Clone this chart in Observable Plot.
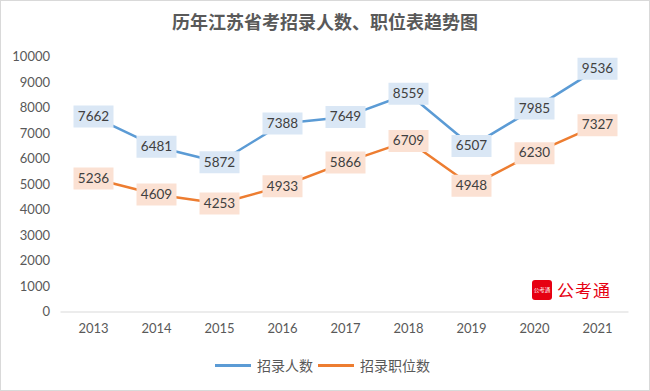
<!DOCTYPE html>
<html><head><meta charset="utf-8">
<script src="https://cdn.jsdelivr.net/npm/d3@7"></script>
<script src="https://cdn.jsdelivr.net/npm/@observablehq/plot@0.6"></script>
<style>
body{margin:0;background:#fff;}
#wrap{position:relative;width:650px;height:391px;overflow:hidden;background:#fff;}
#frame{position:absolute;left:0;top:0;width:650px;height:391px;box-sizing:border-box;border:1px solid #d9d9d9;pointer-events:none;}
#title{position:absolute;left:0;top:9px;width:650px;text-align:center;font:bold 18px "Noto Sans CJK SC";color:#595959;line-height:24px;}
#legend{position:absolute;left:0;top:354px;width:650px;font:14px "Noto Sans CJK SC";color:#595959;line-height:22px;}
.li{position:absolute;top:0;display:flex;align-items:center;}
.sw{display:inline-block;width:36px;height:3px;margin-right:6px;}
#logo{position:absolute;left:532px;top:280px;display:flex;align-items:center;}
#logo .box{width:20px;height:20px;background:#e60012;border-radius:3px;color:#fff;font:5.5px "Noto Sans CJK SC";display:flex;align-items:center;justify-content:center;}
#logo .txt{margin-left:5px;font:17px "Noto Sans CJK SC";color:#e60012;line-height:20px;letter-spacing:1px;}
svg{position:absolute;left:0;top:0;}
</style></head>
<body>
<div id="wrap">
<div id="chart"></div>
<div id="title">历年江苏省考招录人数、职位表趋势图</div>
<div id="logo"><div class="box">公考通</div><div class="txt">公考通</div></div>
<div id="legend">
  <div class="li" style="left:215px"><span class="sw" style="background:#5b9bd5"></span>招录人数</div>
  <div class="li" style="left:318px"><span class="sw" style="background:#ed7d31"></span>招录职位数</div>
</div>
<div id="frame"></div>
</div>
<script>
const years = ["2013","2014","2015","2016","2017","2018","2019","2020","2021"];
const recruits = [7662, 6481, 5872, 7388, 7649, 8559, 6507, 7985, 9536];
const positions = [5236, 4609, 4253, 4933, 5866, 6709, 4948, 6230, 7327];
const yTicks = [0,1000,2000,3000,4000,5000,6000,7000,8000,9000,10000];

const rowsA = years.map((y,i)=>({year:y, v:recruits[i]}));
const rowsB = years.map((y,i)=>({year:y, v:positions[i]}));

const boxSymbol = {draw(ctx, size){ const w=40,h=22; ctx.moveTo(-w/2,-h/2); ctx.lineTo(w/2,-h/2); ctx.lineTo(w/2,h/2); ctx.lineTo(-w/2,h/2); ctx.closePath(); }};

const chart = Plot.plot({
  width: 650, height: 391,
  marginTop: 56.5, marginBottom: 79.5, marginLeft: 60.5, marginRight: 21.5,
  style: {background:"transparent", fontFamily:"Lato, 'Open Sans', sans-serif"},
  x: {type:"point", domain: years, padding: 0.5, label:null},
  y: {domain:[0,10000], label:null},
  marks: [
    Plot.ruleY([0], {stroke:"#d9d9d9", strokeWidth:1}),
    Plot.axisY({ticks: yTicks, tickFormat: d=>String(d), tickSize:0, tickPadding:11, fontSize:13, color:"#595959", label:null}),
    Plot.axisX({tickSize:0, tickPadding:12, fontSize:13, color:"#595959", label:null}),
    Plot.line(rowsA, {x:"year", y:"v", stroke:"#5b9bd5", strokeWidth:2.5}),
    Plot.line(rowsB, {x:"year", y:"v", stroke:"#ed7d31", strokeWidth:2.5}),
    Plot.dot(rowsA, {x:"year", y:"v", symbol: boxSymbol, fill:"#dae7f5", stroke:"none", r:5}),
    Plot.dot(rowsB, {x:"year", y:"v", symbol: boxSymbol, fill:"#fbe1d3", stroke:"none", r:5}),
    Plot.text(rowsA, {x:"year", y:"v", text: d=>String(d.v), fill:"#404040", fontSize:13.5}),
    Plot.text(rowsB, {x:"year", y:"v", text: d=>String(d.v), fill:"#404040", fontSize:13.5})
  ]
});
document.getElementById("chart").appendChild(chart);
</script>
</body></html>
